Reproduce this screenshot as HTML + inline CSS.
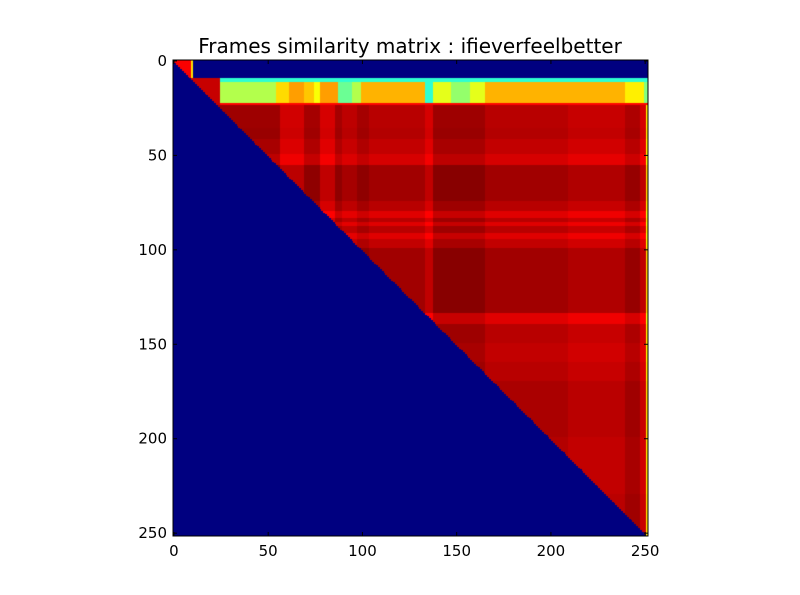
<!DOCTYPE html>
<html><head><meta charset="utf-8"><style>
html,body{margin:0;padding:0;background:#fff;width:800px;height:595px;overflow:hidden;font-family:"DejaVu Sans","Liberation Sans",sans-serif}
#wrap{position:relative;width:800px;height:595px}
canvas{position:absolute;left:173px;top:60px}
svg{position:absolute;left:0;top:0}
</style></head><body>
<div id="wrap">
<canvas id="hm" width="475" height="476"></canvas>
<svg id="ax" width="800" height="595"></svg>
</div>
<script>
// frames count
const nFrames = 252;
// body row segments (start frame) and row dissimilarity
const rowStarts = [24,36,42,50,56,75,80,84,86,88,92,95,100,134,140,150,160,170,200,230];
const rowD = [0.025,0.02,0.035,0.055,0.003,0.025,0.065,0.025,0.065,0.025,0.065,0.035,0.003,0.065,0.025,0.035,0.025,0.012,0.02,0.012];
// body column segments and column dissimilarity
const colStarts = [0,25,57,70,78,86,90,98,104,134,138,166,210,240,248,251];
const colD = [0.02,0.005,0.055,0.012,0.06,0.012,0.035,0.012,0.03,0.06,0.005,0.03,0.045,0.02,0.06,0.33];
// header band (rows 12-22) column values
const hdrStarts = [0,25,55,62,70,75,78,88,95,100,134,138,148,158,166,210,240,250];
const hdrVals = [0.9,0.55,0.66,0.72,0.68,0.62,0.72,0.48,0.55,0.7,0.42,0.6,0.52,0.6,0.7,0.7,0.64,0.5];
const xTicks = [0,50,100,150,200,250];
const yTicks = [0,50,100,150,200,250];
const titleText = "Frames similarity matrix : ifieverfeelbetter";

function seg(starts, vals, i){let k=0;for(let s=0;s<starts.length;s++){if(i>=starts[s])k=s;}return vals[k];}
function cellValue(r,c){
  if(c<r) return 0;
  if(r<10){ if(c<10) return 0.88; if(c===10) return 0.65; return 0; }
  if(r<24 && c<25) return 0.93;
  if(r<12) return 0.42;
  if(r<23) return seg(hdrStarts,hdrVals,c);
  if(r===23) return 0.87;
  return 1 - seg(rowStarts,rowD,r) - seg(colStarts,colD,c);
}
function jet(v){
  const cl=x=>Math.max(0,Math.min(1,x));
  return [cl(1.5-Math.abs(4*v-3)),cl(1.5-Math.abs(4*v-2)),cl(1.5-Math.abs(4*v-1))].map(x=>Math.round(x*255));
}
// axis functions
const X0=173,X1=648,Y0=60,Y1=536;
const sx=f=>X0+(f+0.5)*(X1-X0)/nFrames;
const sy=f=>Y0+(f+0.5)*(Y1-Y0)/nFrames;
const ctx=document.getElementById('hm').getContext('2d');
for(let r=0;r<nFrames;r++){for(let c=0;c<nFrames;c++){
  const [R,G,B]=jet(cellValue(r,c));
  ctx.fillStyle=`rgb(${R},${G},${B})`;
  const x=sx(c-0.5)-X0,y=sy(r-0.5)-Y0,x2=sx(c+0.5)-X0,y2=sy(r+0.5)-Y0;
  ctx.fillRect(Math.floor(x),Math.floor(y),Math.ceil(x2)-Math.floor(x),Math.ceil(y2)-Math.floor(y));
}}
const svg=document.getElementById('ax');const NS='http://www.w3.org/2000/svg';
function mk(t,a){const e=document.createElementNS(NS,t);for(const k in a)e.setAttribute(k,a[k]);svg.appendChild(e);return e;}
const frame=mk('rect',{x:X0,y:Y0,width:X1-X0,height:Y1-Y0,fill:'none',stroke:'#000','stroke-width':1});


xTicks.forEach(t=>{
  const x=sx(t);
  const l1=mk('line',{x1:x,y1:Y1,x2:x,y2:Y1-4,stroke:'#000'});
  
  
  const l2=mk('line',{x1:x,y1:Y0,x2:x,y2:Y0+4,stroke:'#000'});
  
  
  const tx=mk('text',{x:x,y:Y1+20,'text-anchor':'middle','font-size':15});
  tx.textContent=t;
  
  
});
yTicks.forEach(t=>{
  const y=sy(t);
  const l1=mk('line',{x1:X0,y1:y,x2:X0+4,y2:y,stroke:'#000'});
  
  
  const l2=mk('line',{x1:X1,y1:y,x2:X1-4,y2:y,stroke:'#000'});
  
  
  const tx=mk('text',{x:X0-6,y:y+5,'text-anchor':'end','font-size':15});
  tx.textContent=t;
  
  
});
const ti=mk('text',{x:410,y:53,'text-anchor':'middle','font-size':20});
ti.textContent=titleText;


</script>
</body></html>
